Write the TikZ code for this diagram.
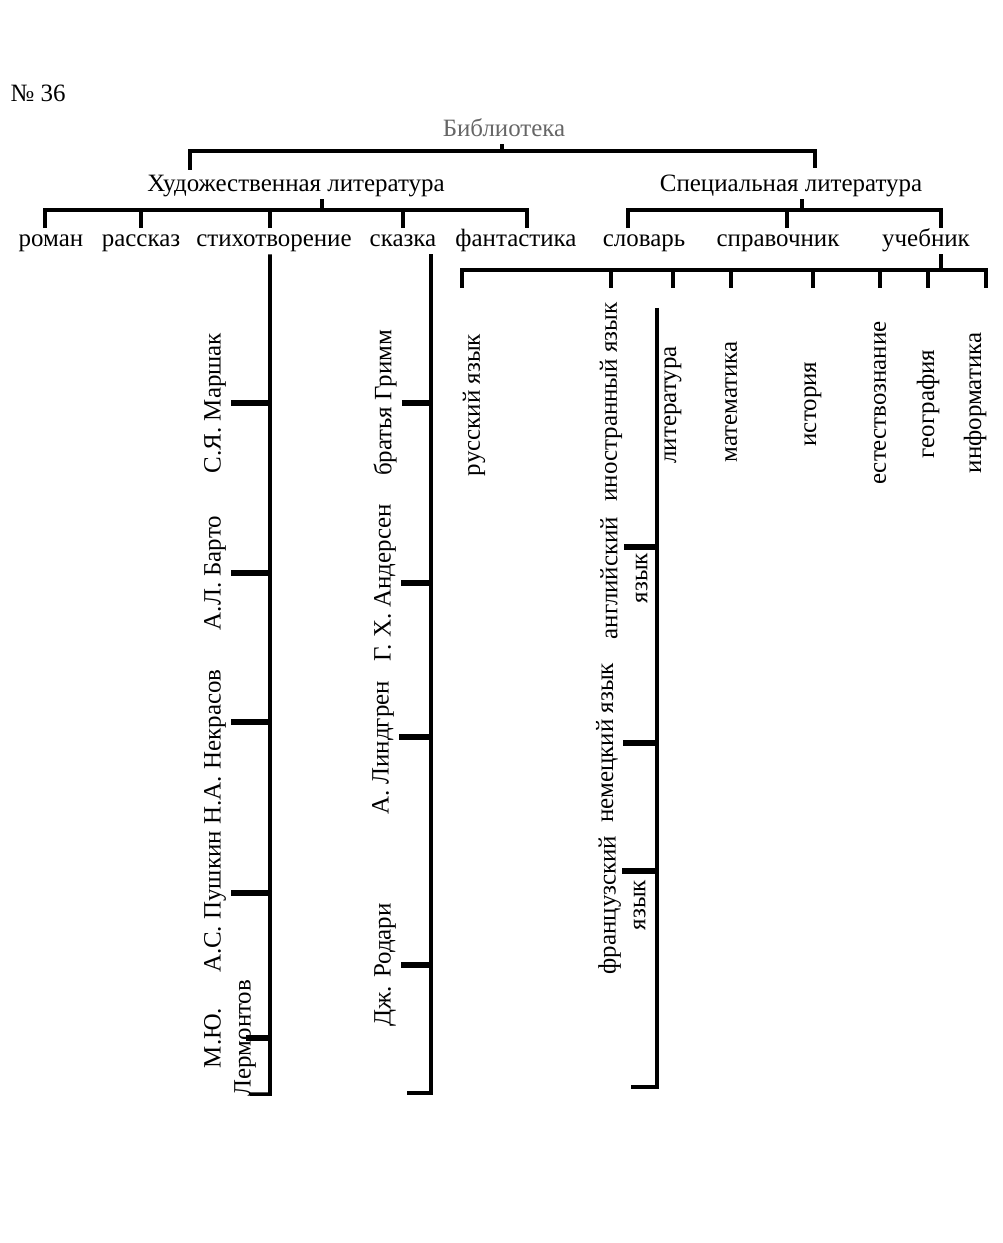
\documentclass[tikz,border=0pt]{standalone}
\usepackage{fontspec}
\setmainfont{Liberation Serif}
\usetikzlibrary{positioning}
\begin{document}
\begin{tikzpicture}[x=0.02cm, y=-0.02cm]

\tikzset{word/.style = {font=\fontsize{14.2}{17}\selectfont, inner sep=1pt}}
\tikzset{flat/.style = {word, anchor=base, text height=9.5pt, text depth=3pt}}
\tikzset{upword/.style = {word, rotate=90, align=center, outer sep=2pt}}
\tikzset{branch/.style = {line width=2.3pt}}
\tikzset{pole/.style = {line width=2pt}}
\tikzset{twig/.style = {line width=3.5pt}}
\useasboundingbox (0,0) rectangle (1002,1243);

%titles
\node[flat] (num) at (38,102) {№ 36};
\node[flat, text=black!60] (lib) at (504,137) {Библиотека};
\node[flat] (fict) at (296,192) {Художественная литература};
\node[flat] (spec) at (791,192) {Специальная литература};

%genres
\node[flat] (novel) at (51,247) {роман};
\node[flat] (story) at (141,247) {рассказ};
\node[flat] (poem) at (274,247) {стихотворение};
\node[flat] (tale) at (403,247) {сказка};
\node[flat] (scifi) at (516,247) {фантастика};
\node[flat] (dict) at (644,247) {словарь};
\node[flat] (ref) at (778,247) {справочник};
\node[flat] (book) at (926,247) {учебник};

%subjects
\node[upword] (rus) at (474,405) {русский язык};
\node[upword] (lang) at (611,402) {иностранный язык};
\node[upword] (lit) at (673,405) {литература};
\node[upword] (math) at (731,402) {математика};
\node[upword] (hist) at (813,404) {история};
\node[upword] (nat) at (880,403) {естествознание};
\node[upword] (geo) at (928,404) {география};
\node[upword] (info) at (975,403) {информатика};

%poets
\node[upword] (marshak) at (215,403) {С.Я. Маршак};
\node[upword] (barto) at (215,573) {А.Л. Барто};
\node[upword] (nekr) at (215,747) {Н.А. Некрасов};
\node[upword] (push) at (215,902) {А.С. Пушкин};
\node[upword] (lerm) at (230,1038) {М.Ю.\\Лермонтов};

%tale writers
\node[upword] (grimm) at (385,403) {братья Гримм};
\node[upword] (anders) at (385,583) {Г. Х. Андерсен};
\node[upword] (lindg) at (383,748) {А. Линдгрен};
\node[upword] (rodari) at (385,965) {Дж. Родари};

%languages
\node[upword] (eng) at (624,578) {английский\\язык};
\node[upword] (germ) at (607,743) {немецкий язык};
\node[upword] (fren) at (622,905) {французский\\язык};

%bars
\coordinate (libbar) at (502,151);
\coordinate (fictend) at (190,170);
\coordinate (specend) at (815,168);
\coordinate (fictbar) at (322,210);
\coordinate (specbar) at (802,210);
\coordinate (bookbar) at (941,270);

\draw[branch] (lib.south -| libbar) -- (libbar);
\draw[pole] (fictend) |- (libbar) -| (specend);

\draw[branch] (fict.south -| fictbar) -- (fictbar);
\draw[branch] ([xshift=-0.12cm]novel.north) |- (fictbar) -| ([xshift=0.22cm]scifi.north);
\draw[branch] (story.north) -- (story.north |- fictbar);
\draw[branch] ([xshift=-0.08cm]poem.north) coordinate (p) -- (p |- fictbar);
\draw[branch] (tale.north) -- (tale.north |- fictbar);

\draw[branch] (spec.south -| specbar) -- (specbar);
\draw[branch] ([xshift=-0.32cm]dict.north) |- (specbar) -| ([xshift=0.3cm]book.north);
\draw[branch] ([xshift=0.18cm]ref.north) coordinate (r) -- (r |- specbar);

\draw[branch] ([xshift=0.3cm]book.south) coordinate (b) -- (b |- bookbar);
\path ([xshift=-0.24cm]rus.east) coordinate (rustop) ([xshift=0.22cm]info.east) coordinate (infotop);
\draw[branch] (rustop |- bookbar) ++(0,18) -- (rustop |- bookbar) -- (infotop |- bookbar) -- ++(0,18);
\draw[branch] (lang.east |- bookbar) -- ++(0,18);
\draw[branch] (lit.east |- bookbar) -- ++(0,18);
\draw[branch] (math.east |- bookbar) -- ++(0,18);
\draw[branch] (hist.east |- bookbar) -- ++(0,18);
\draw[branch] (nat.east |- bookbar) -- ++(0,18);
\draw[branch] (geo.east |- bookbar) -- ++(0,18);

%columns
\coordinate (poemend) at (270,1094);
\coordinate (taleend) at (431,1093);
\coordinate (langtop) at (657,308);
\coordinate (langend) at (657,1087);

\draw[pole] (p |- poem.south) -- (poemend) -- ++(-20,0);
\draw[pole] (tale.south -| taleend) -- (taleend) -- ++(-24,0);
\draw[pole] (langtop) -- (langend) -- ++(-26,0);

%ticks
\draw[twig] (marshak.south) -- (marshak.south -| poemend);
\draw[twig] (barto.south) -- (barto.south -| poemend);
\draw[twig] ([yshift=0.5cm]nekr.south) coordinate (n) -- (n -| poemend);
\draw[twig] ([yshift=0.18cm]push.south) coordinate (a) -- (a -| poemend);
\draw[twig] ([xshift=-0.3cm]lerm.south) coordinate (l) -- (l -| poemend);

\draw[twig] (grimm.south) -- (grimm.south -| taleend);
\draw[twig] (anders.south) -- (anders.south -| taleend);
\draw[twig] ([yshift=0.22cm]lindg.south) coordinate (g) -- (g -| taleend);
\draw[twig] (rodari.south) -- (rodari.south -| taleend);

\draw[twig] ([yshift=0.62cm]eng.center) coordinate (e) -- (e -| langend);
\draw[twig] (germ.south) -- (germ.south -| langend);
\draw[twig] ([yshift=0.68cm]fren.center) coordinate (f) -- (f -| langend);

\end{tikzpicture}
\end{document}
